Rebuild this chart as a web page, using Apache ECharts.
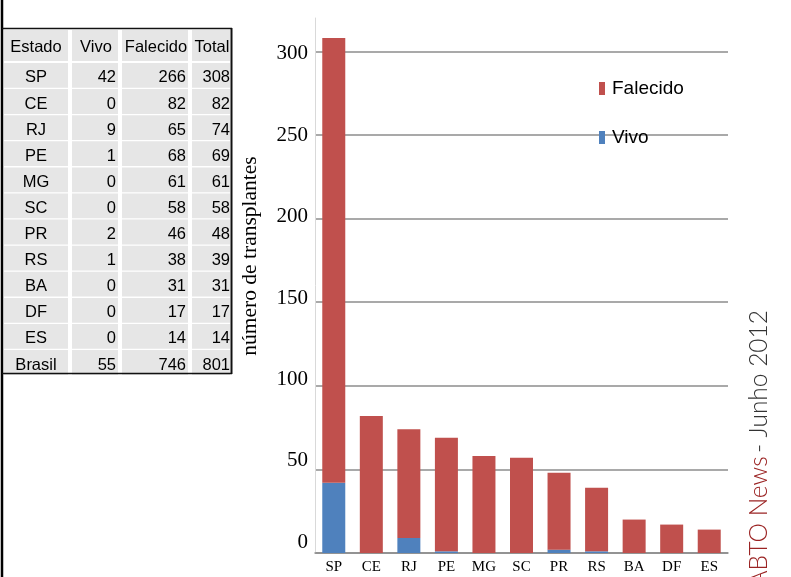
<!DOCTYPE html>
<html>
<head>
<meta charset="utf-8">
<script src="https://cdn.jsdelivr.net/npm/echarts@6/dist/echarts.min.js"></script>
<style>html,body{margin:0;padding:0;background:#fff}#c{width:791px;height:577px}</style>
</head>
<body>
<div id="c"></div>
<script>
// ---- data ----
const categories = ['SP','CE','RJ','PE','MG','SC','PR','RS','BA','DF','ES'];
// values drawn as bars
const chartVivo = [42,0,9,1,0,0,2,1,0,0,0];
const chartFalecido = [266,82,65,68,58,57,46,38,20,17,14];
// values printed in the table
const tableHeader = ['Estado','Vivo','Falecido','Total'];
const tableStates = ['SP','CE','RJ','PE','MG','SC','PR','RS','BA','DF','ES','Brasil'];
const tableVivo = [42,0,9,1,0,0,2,1,0,0,0,55];
const tableFalecido = [266,82,65,68,61,58,46,38,31,17,14,746];
const tableTotal = [308,82,74,69,61,58,48,39,31,17,14,801];
const yTicks = [0,50,100,150,200,250,300];
const legendNames = ['Falecido','Vivo'];
const yName = 'número de transplantes';
const sideTitleA = 'ABTO News';
const sideTitleB = '- Junho 2012';

// small vertical nudges of the y tick labels (px, negative = up), as in the picture
const yLabelShift = [-11,-9,-6,-4,-2,0,2];

// ---- table as graphic elements ----
const g = [];
g.push({type:'line', shape:{x1:2,y1:0,x2:2,y2:577}, style:{stroke:'#000', lineWidth:2.5}, z:10});
const cols = [[4,68],[72,118],[122,188],[192,230]];
const cellFill = '#e6e6e6';
const font = 'Liberation Sans, Arial, sans-serif';
const fs = '16.5px ';
// header
cols.forEach((c,j)=>{
  g.push({type:'rect', shape:{x:c[0], y:30, width:c[1]-c[0], height:31}, style:{fill:cellFill}});
  g.push({type:'text', x:(c[0]+c[1])/2 + (j===0?0:1), y:47, style:{text:tableHeader[j], fill:'#000', font:fs+font, textAlign:'center', textVerticalAlign:'middle'}});
});
for (let i=0;i<tableStates.length;i++){
  const top = 63 + i*26.1, h = 24.8, cy = top + h/2 + 2.5;
  cols.forEach(c=>{
    g.push({type:'rect', shape:{x:c[0], y:top, width:c[1]-c[0], height:h}, style:{fill:cellFill}});
  });
  g.push({type:'text', x:36, y:cy, style:{text:tableStates[i], fill:'#000', font:fs+font, textAlign:'center', textVerticalAlign:'middle'}});
  g.push({type:'text', x:116, y:cy, style:{text:String(tableVivo[i]), fill:'#000', font:fs+font, textAlign:'right', textVerticalAlign:'middle'}});
  g.push({type:'text', x:186, y:cy, style:{text:String(tableFalecido[i]), fill:'#000', font:fs+font, textAlign:'right', textVerticalAlign:'middle'}});
  g.push({type:'text', x:230, y:cy, style:{text:String(tableTotal[i]), fill:'#000', font:fs+font, textAlign:'right', textVerticalAlign:'middle'}});
}
g.push({type:'line', shape:{x1:2,y1:28.5,x2:232,y2:28.5}, style:{stroke:'#111', lineWidth:1.5}, z:10});
g.push({type:'line', shape:{x1:231.5,y1:28,x2:231.5,y2:374}, style:{stroke:'#111', lineWidth:2}, z:10});
g.push({type:'line', shape:{x1:2,y1:373.5,x2:232,y2:373.5}, style:{stroke:'#111', lineWidth:1.5}, z:10});

// y axis name
g.push({type:'text', x:250, y:256, rotation:Math.PI/2, style:{text:yName, fill:'#000', font:'21.5px Liberation Serif, Times New Roman, serif', textAlign:'center', textVerticalAlign:'middle'}});

// side title
g.push({type:'text', x:759, y:310, rotation:Math.PI/2, style:{
  text:'{a|'+sideTitleA+'} {b|'+sideTitleB+'}', textAlign:'right', textVerticalAlign:'middle',
  rich:{a:{fill:'#9b2424', font:'300 24.5px Lato, sans-serif'}, b:{fill:'#333', font:'300 24.5px Lato, sans-serif'}}
}});

const rich = {};
yLabelShift.forEach((d,i)=>{
  rich['v'+i] = {fontFamily:'Liberation Serif, Times New Roman, serif', fontSize:21, color:'#000',
    padding: d<0 ? [0,0,-2*d,0] : [2*d,0,0,0]};
});

const chart = echarts.init(document.getElementById('c'));
chart.setOption({
  animation:false,
  backgroundColor:'#fff',
  grid:{left:315, right:63, top:18, bottom:24, containLabel:false},
  legend:{
    data:legendNames, orient:'vertical', left:594, top:74, itemWidth:6, itemHeight:13, itemGap:30,
    icon:'rect', textStyle:{fontFamily:'Liberation Sans, Arial, sans-serif', fontSize:19, color:'#000', padding:[0,0,0,2]}
  },
  xAxis:{
    type:'category', data:categories,
    axisLine:{lineStyle:{color:'#8c8c8c', width:1.5}},
    axisTick:{show:false},
    axisLabel:{fontFamily:'Liberation Serif, Times New Roman, serif', fontSize:15, color:'#000', margin:7}
  },
  yAxis:{
    type:'value', min:yTicks[0], max:320, interval:yTicks[1]-yTicks[0],
    axisLine:{show:true, lineStyle:{color:'#d9d9d9', width:1}},
    axisTick:{show:false},
    axisLabel:{fontFamily:'Liberation Serif, Times New Roman, serif', fontSize:21, color:'#000', margin:7, showMaxLabel:false,
      formatter:v=>{ const i = yTicks.indexOf(v); return i>=0 ? '{v'+i+'|'+v+'}' : ''; }, rich:rich},
    splitLine:{show:true, showMaxLine:false, lineStyle:{color:'#8c8c8c', width:1.5}}
  },
  series:[
    {name:'Vivo', type:'bar', stack:'t', data:chartVivo, barWidth:23, itemStyle:{color:'#4f81bd'}},
    {name:'Falecido', type:'bar', stack:'t', data:chartFalecido, barWidth:23, itemStyle:{color:'#c0504d'}}
  ],
  graphic:g
});
</script>
</body>
</html>
